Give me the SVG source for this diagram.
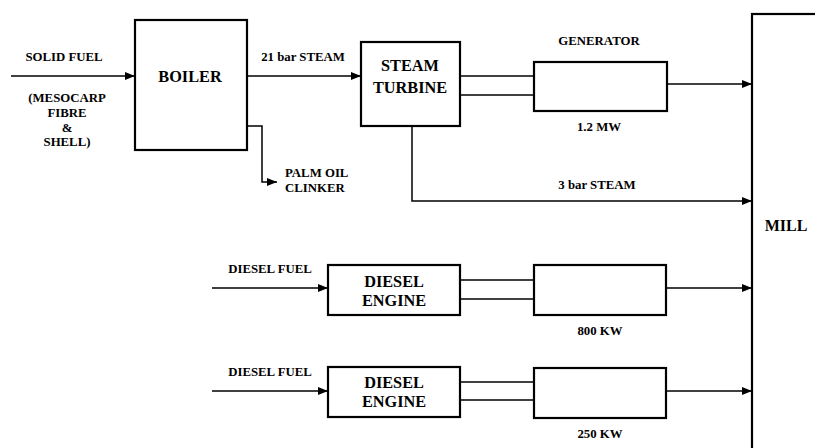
<svg xmlns="http://www.w3.org/2000/svg" width="815" height="448" viewBox="0 0 815 448">
<defs>
<marker id="ah" markerWidth="10" markerHeight="8" refX="10" refY="4" orient="auto" markerUnits="userSpaceOnUse">
<path d="M0,0 L10,4 L0,8 Z" fill="#000"/>
</marker>
<style>
.box{fill:#fff;stroke:#000;stroke-width:2.2}
.ln{fill:none;stroke:#000;stroke-width:1.5}
.arr{fill:none;stroke:#000;stroke-width:1.5;marker-end:url(#ah)}
</style>
</defs>
<rect width="815" height="448" fill="#fff"/>
<g id="connectors">
<line class="arr" x1="11" y1="76" x2="135" y2="76"/>
<line class="arr" x1="247" y1="76" x2="361" y2="76"/>
<polyline class="arr" points="247,126 262,126 262,182 277,182"/>
<line class="ln" x1="460" y1="76" x2="534" y2="76"/>
<line class="ln" x1="460" y1="95" x2="534" y2="95"/>
<line class="arr" x1="667" y1="84" x2="752" y2="84"/>
<polyline class="arr" points="412,127 412,201 752,201"/>
<line class="arr" x1="212" y1="288" x2="328" y2="288"/>
<line class="ln" x1="460" y1="280" x2="534" y2="280"/>
<line class="ln" x1="460" y1="299" x2="534" y2="299"/>
<line class="arr" x1="666" y1="288" x2="752" y2="288"/>
<line class="arr" x1="212" y1="391" x2="328" y2="391"/>
<line class="ln" x1="460" y1="382" x2="534" y2="382"/>
<line class="ln" x1="460" y1="400" x2="534" y2="400"/>
<line class="arr" x1="666" y1="391" x2="752" y2="391"/>
</g>
<g id="labels">
<text font-family="Liberation Serif" font-weight="bold" font-size="12.8" text-anchor="middle" x="64" y="61">SOLID FUEL</text>
<text font-family="Liberation Serif" font-weight="bold" font-size="12.8" text-anchor="middle" x="67" y="102">(MESOCARP</text>
<text font-family="Liberation Serif" font-weight="bold" font-size="12.8" text-anchor="middle" x="67" y="117">FIBRE</text>
<text font-family="Liberation Serif" font-weight="bold" font-size="12.8" text-anchor="middle" x="67" y="132">&amp;</text>
<text font-family="Liberation Serif" font-weight="bold" font-size="12.8" text-anchor="middle" x="67" y="146">SHELL)</text>
<text font-family="Liberation Serif" font-weight="bold" font-size="12.8" text-anchor="middle" x="303" y="61">21 bar STEAM</text>
<text font-family="Liberation Serif" font-weight="bold" font-size="12.8" x="285" y="177">PALM OIL</text>
<text font-family="Liberation Serif" font-weight="bold" font-size="12.8" x="285" y="192">CLINKER</text>
<text font-family="Liberation Serif" font-weight="bold" font-size="12.8" text-anchor="middle" x="599" y="45">GENERATOR</text>
<text font-family="Liberation Serif" font-weight="bold" font-size="12.8" text-anchor="middle" x="599" y="131">1.2 MW</text>
<text font-family="Liberation Serif" font-weight="bold" font-size="12.8" text-anchor="middle" x="597" y="189">3 bar STEAM</text>
<text font-family="Liberation Serif" font-weight="bold" font-size="12.8" text-anchor="middle" x="270" y="273">DIESEL FUEL</text>
<text font-family="Liberation Serif" font-weight="bold" font-size="12.8" text-anchor="middle" x="270" y="376">DIESEL FUEL</text>
<text font-family="Liberation Serif" font-weight="bold" font-size="12.8" text-anchor="middle" x="600" y="335">800 KW</text>
<text font-family="Liberation Serif" font-weight="bold" font-size="12.8" text-anchor="middle" x="600" y="438">250 KW</text>
</g>
<g id="boiler">
<rect class="box" x="135" y="20" width="112" height="130"/>
<text font-family="Liberation Serif" font-weight="bold" font-size="16.3" text-anchor="middle" x="190" y="82">BOILER</text>
</g>
<g id="steam-turbine">
<rect class="box" x="361" y="42" width="99" height="84"/>
<text font-family="Liberation Serif" font-weight="bold" font-size="16.3" text-anchor="middle" x="410" y="71">STEAM</text>
<text font-family="Liberation Serif" font-weight="bold" font-size="16.3" text-anchor="middle" x="410" y="93">TURBINE</text>
</g>
<g id="generator1">
<rect class="box" x="534" y="62" width="133" height="49"/>
</g>
<g id="diesel-engine1">
<rect class="box" x="328" y="265" width="132" height="50"/>
<text font-family="Liberation Serif" font-weight="bold" font-size="16.3" text-anchor="middle" x="394" y="287">DIESEL</text>
<text font-family="Liberation Serif" font-weight="bold" font-size="16.3" text-anchor="middle" x="394" y="306">ENGINE</text>
</g>
<g id="generator2">
<rect class="box" x="534" y="265" width="132" height="50"/>
</g>
<g id="diesel-engine2">
<rect class="box" x="328" y="367" width="132" height="50"/>
<text font-family="Liberation Serif" font-weight="bold" font-size="16.3" text-anchor="middle" x="394" y="388">DIESEL</text>
<text font-family="Liberation Serif" font-weight="bold" font-size="16.3" text-anchor="middle" x="394" y="407">ENGINE</text>
</g>
<g id="generator3">
<rect class="box" x="534" y="368" width="132" height="50"/>
</g>
<g id="mill">
<rect class="box" x="752" y="14" width="80" height="450"/>
<text font-family="Liberation Serif" font-weight="bold" font-size="16" text-anchor="middle" x="786" y="231">MILL</text>
</g>
</svg>
